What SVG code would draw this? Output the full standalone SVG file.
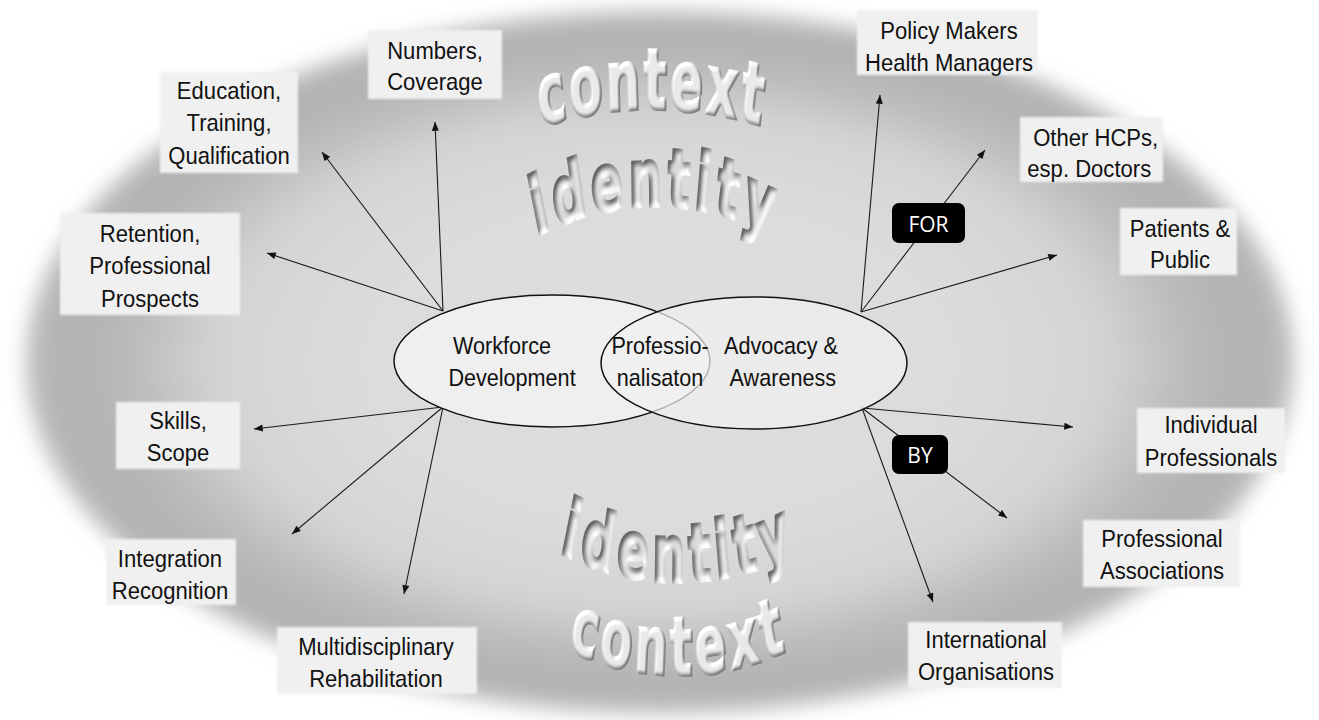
<svg xmlns="http://www.w3.org/2000/svg" width="1319" height="720" viewBox="0 0 1319 720">
<style>
.box{fill:#f0f0f0}
.lbl{font-family:'Liberation Sans',Arial,sans-serif;font-size:24px;fill:#111;text-anchor:middle}
.arc{font-family:'DejaVu Sans Condensed','DejaVu Sans',sans-serif;font-stretch:condensed;font-weight:bold;fill:#ccc;stroke:#ccc;stroke-width:2.5;stroke-linejoin:miter}
.con line{stroke:#1a1a1a;stroke-width:1.1;marker-end:url(#ah)}
.tag{fill:#000}
.tagt{font-family:'Open Sans','Noto Sans',sans-serif;font-size:21px;fill:#fff;text-anchor:middle}
</style>
<defs>
<radialGradient id="bg" cx="0.5" cy="0.5" r="0.5">
<stop offset="0" stop-color="#dedede"/>
<stop offset="0.45" stop-color="#dcdcdc"/>
<stop offset="0.62" stop-color="#d7d7d7"/>
<stop offset="0.70" stop-color="#d3d3d3"/>
<stop offset="0.76" stop-color="#c8c8c8"/>
<stop offset="0.83" stop-color="#bbbbbb"/>
<stop offset="0.92" stop-color="#b2b2b2"/>
<stop offset="0.97" stop-color="#b6b6b6"/>
<stop offset="1" stop-color="#c4c4c4"/>
</radialGradient>
<filter id="blurbg" x="-5%" y="-8%" width="110%" height="116%">
<feGaussianBlur stdDeviation="10"/>
</filter>
<filter id="soft" x="-10%" y="-10%" width="120%" height="120%">
<feGaussianBlur stdDeviation="1.3"/>
</filter>
<filter id="fRaise" x="-10%" y="-20%" width="120%" height="140%" color-interpolation-filters="sRGB">
<feGaussianBlur in="SourceAlpha" stdDeviation="1.3" result="b"/>
<feDiffuseLighting in="b" surfaceScale="3" diffuseConstant="1" lighting-color="#ffffff" result="l">
<feDistantLight azimuth="225" elevation="50"/>
</feDiffuseLighting>
<feComponentTransfer in="l" result="l2">
<feFuncR type="linear" slope="0.55" intercept="0.5"/>
<feFuncG type="linear" slope="0.55" intercept="0.5"/>
<feFuncB type="linear" slope="0.55" intercept="0.5"/>
</feComponentTransfer>
<feComposite in="l2" in2="SourceAlpha" operator="in"/>
</filter>
<filter id="fSink" x="-10%" y="-20%" width="120%" height="140%" color-interpolation-filters="sRGB">
<feGaussianBlur in="SourceAlpha" stdDeviation="2.2" result="b"/>
<feDiffuseLighting in="b" surfaceScale="-4" diffuseConstant="1" lighting-color="#ffffff" result="l">
<feDistantLight azimuth="225" elevation="50"/>
</feDiffuseLighting>
<feComponentTransfer in="l" result="l2">
<feFuncR type="linear" slope="0.6" intercept="0.4"/>
<feFuncG type="linear" slope="0.6" intercept="0.4"/>
<feFuncB type="linear" slope="0.6" intercept="0.4"/>
</feComponentTransfer>
<feComposite in="l2" in2="SourceAlpha" operator="in"/>
</filter>
<marker id="ah" viewBox="0 0 10 8" refX="10" refY="4" markerWidth="10" markerHeight="7" markerUnits="userSpaceOnUse" orient="auto">
<path d="M0,0 L10,4 L0,8 z" fill="#111"/>
</marker>
<path id="pTop370" d="M -370 0 A 370 238.7 0 0 1 370 0"/>
<path id="pTop250" d="M -250 0 A 250 161.3 0 0 1 250 0"/>
<path id="pBot250" d="M -250 0 A 250 161.3 0 0 0 250 0"/>
</defs>

<rect x="0" y="0" width="1319" height="720" fill="#ffffff"/>
<g id="background">
<ellipse cx="660" cy="362" rx="635" ry="352" fill="url(#bg)" filter="url(#blurbg)"/>
</g>

<g id="arc-words">
<g transform="translate(652 479) scale(1 1.55)">
<text class="arc" font-size="54" letter-spacing="2.5" filter="url(#fRaise)"><textPath href="#pTop370" startOffset="50%" text-anchor="middle">context</textPath></text>
</g>
<g transform="translate(655 456) scale(1 1.55)">
<text class="arc" font-size="52" letter-spacing="4.5" filter="url(#fSink)"><textPath href="#pTop250" startOffset="50%" text-anchor="middle">identity</textPath></text>
</g>
<g transform="translate(678 332) scale(1 1.55)">
<text class="arc" font-size="52" letter-spacing="4.5" filter="url(#fSink)"><textPath href="#pBot250" startOffset="50%" text-anchor="middle">identity</textPath></text>
</g>
<g transform="translate(679 425) scale(1 1.55)">
<text class="arc" font-size="52" letter-spacing="3.5" filter="url(#fRaise)"><textPath href="#pBot250" startOffset="50%" text-anchor="middle">context</textPath></text>
</g>
</g>

<g id="connectors" class="con">
<line x1="443" y1="311" x2="435" y2="122"/>
<line x1="443" y1="311" x2="322" y2="152"/>
<line x1="443" y1="311" x2="267" y2="253"/>
<line x1="443" y1="407" x2="254" y2="429"/>
<line x1="443" y1="407" x2="292" y2="534"/>
<line x1="443" y1="407" x2="404" y2="594"/>
<line x1="861" y1="312" x2="880" y2="95"/>
<line x1="861" y1="312" x2="985" y2="150"/>
<line x1="861" y1="312" x2="1057" y2="255"/>
<line x1="862" y1="408" x2="1073" y2="427"/>
<line x1="862" y1="408" x2="1007" y2="518"/>
<line x1="862" y1="408" x2="933" y2="602"/>
</g>

<g id="n-core">
<ellipse cx="552" cy="361" rx="158" ry="66" fill="#efefef" stroke="#111" stroke-width="1.5"/>
<ellipse cx="754" cy="363" rx="153" ry="66" fill="#f0f0f0" fill-opacity="0.72" stroke="#111" stroke-width="1.5"/>
<text class="lbl" transform="translate(502 0) scale(0.9 1)"><tspan x="0" y="354">Workforce</tspan></text>
<text class="lbl" transform="translate(512 0) scale(0.9 1)"><tspan x="0" y="386">Development</tspan></text>
<text class="lbl" transform="translate(660 0) scale(0.9 1)"><tspan x="0" y="354">Professio-</tspan><tspan x="0" y="386">nalisaton</tspan></text>
<text class="lbl" transform="translate(781 0) scale(0.9 1)"><tspan x="0" y="354">Advocacy &amp;</tspan><tspan x="2" y="386">Awareness</tspan></text>
</g>

<g id="tag-for">
<rect class="tag" x="892" y="203" width="73" height="40" rx="7"/>
<text class="tagt" x="928.5" y="232">FOR</text>
</g>
<g id="tag-by">
<rect class="tag" x="892" y="435" width="56" height="39" rx="7"/>
<text class="tagt" x="920" y="463">BY</text>
</g>

<g id="n-numbers">
<rect class="box" x="368" y="30" width="134" height="69" filter="url(#soft)"/>
<text class="lbl" transform="translate(435 0) scale(0.92 1)"><tspan x="0" y="59">Numbers,</tspan><tspan x="0" y="90">Coverage</tspan></text>
</g>
<g id="n-education">
<rect class="box" x="160" y="72" width="138" height="101" filter="url(#soft)"/>
<text class="lbl" transform="translate(229 0) scale(0.92 1)"><tspan x="0" y="99">Education,</tspan><tspan x="0" y="131">Training,</tspan><tspan x="0" y="164">Qualification</tspan></text>
</g>
<g id="n-retention">
<rect class="box" x="60" y="213" width="180" height="102" filter="url(#soft)"/>
<text class="lbl" transform="translate(150 0) scale(0.92 1)"><tspan x="0" y="242">Retention,</tspan><tspan x="0" y="274">Professional</tspan><tspan x="0" y="307">Prospects</tspan></text>
</g>
<g id="n-skills">
<rect class="box" x="116" y="402" width="124" height="67" filter="url(#soft)"/>
<text class="lbl" transform="translate(178 0) scale(0.92 1)"><tspan x="0" y="429">Skills,</tspan><tspan x="0" y="461">Scope</tspan></text>
</g>
<g id="n-integration">
<rect class="box" x="106" y="539" width="130" height="66" filter="url(#soft)"/>
<text class="lbl" transform="translate(170 0) scale(0.92 1)"><tspan x="0" y="567">Integration</tspan><tspan x="0" y="599">Recognition</tspan></text>
</g>
<g id="n-multi">
<rect class="box" x="277" y="627" width="200" height="67" filter="url(#soft)"/>
<text class="lbl" transform="translate(376 0) scale(0.92 1)"><tspan x="0" y="655">Multidisciplinary</tspan><tspan x="0" y="687">Rehabilitation</tspan></text>
</g>
<g id="n-policy">
<rect class="box" x="857" y="10" width="181" height="65" filter="url(#soft)"/>
<text class="lbl" transform="translate(949 0) scale(0.92 1)"><tspan x="0" y="39">Policy Makers</tspan><tspan x="0" y="71">Health Managers</tspan></text>
</g>
<g id="n-otherhcps">
<rect class="box" x="1020" y="117" width="143" height="65" filter="url(#soft)"/>
<text class="lbl" transform="translate(1092 0) scale(0.92 1)"><tspan x="4" y="146">Other HCPs,</tspan><tspan x="-3" y="177">esp. Doctors</tspan></text>
</g>
<g id="n-patients">
<rect class="box" x="1120" y="208" width="117" height="67" filter="url(#soft)"/>
<text class="lbl" transform="translate(1180 0) scale(0.92 1)"><tspan x="0" y="237">Patients &amp;</tspan><tspan x="0" y="268">Public</tspan></text>
</g>
<g id="n-individual">
<rect class="box" x="1137" y="408" width="148" height="65" filter="url(#soft)"/>
<text class="lbl" transform="translate(1211 0) scale(0.92 1)"><tspan x="0" y="433">Individual</tspan><tspan x="0" y="466">Professionals</tspan></text>
</g>
<g id="n-assoc">
<rect class="box" x="1083" y="520" width="157" height="67" filter="url(#soft)"/>
<text class="lbl" transform="translate(1162 0) scale(0.92 1)"><tspan x="0" y="547">Professional</tspan><tspan x="0" y="579">Associations</tspan></text>
</g>
<g id="n-international">
<rect class="box" x="908" y="622" width="154" height="66" filter="url(#soft)"/>
<text class="lbl" transform="translate(986 0) scale(0.92 1)"><tspan x="0" y="648">International</tspan><tspan x="0" y="680">Organisations</tspan></text>
</g>
</svg>
